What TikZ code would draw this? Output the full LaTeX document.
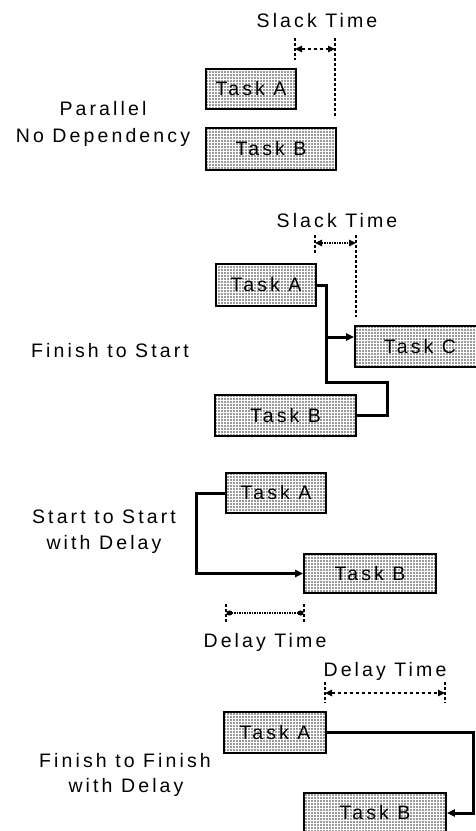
\documentclass[tikz,border=0pt]{standalone}
\usepackage{fontspec}
\setmainfont{Liberation Sans}[LetterSpace=16]
\usetikzlibrary{patterns,arrows.meta}
\pgfdeclarepatternformonly{fdots}{\pgfqpoint{-1pt}{-1pt}}{\pgfqpoint{1pt}{1pt}}{\pgfqpoint{3pt}{3pt}}{\pgfpathcircle{\pgfqpoint{0pt}{0pt}}{.85pt}\pgfusepath{fill}}
\begin{document}
\begin{tikzpicture}[x=1pt,y=-1pt,
  task/.style={draw, line width=1.6pt, pattern=fdots, pattern color=black!80,
    inner sep=0pt, font=\fontsize{19.5}{21}\selectfont, text=black},
  lbl/.style={font=\fontsize{19.5}{21}\selectfont, inner sep=0pt, anchor=base, text=black},
  link/.style={line width=3pt, line join=miter},
  guide/.style={line width=1.2pt, densely dashed},
  dimline/.style={line width=1.5pt, dashed},
  tip/.style={-{Triangle[length=8pt,width=7pt]}}]
\clip (0,0) rectangle (476,831);
\useasboundingbox (0,0) rectangle (476,831);

% ---------- Parallel, no dependency
\node[lbl] (l1) at (317,27) {Slack Time};
\coordinate (s1at) at (295,38); \coordinate (s1ab) at (295,60);
\coordinate (s1bt) at (335,38); \coordinate (s1bb) at (335,118);
\draw[guide] (s1at) -- (s1ab);
\draw[guide] (s1bt) -- (s1bb);
\coordinate (s1l) at (295,49); \coordinate (s1r) at (335,49);
\draw[dimline,{Triangle[length=7pt,width=6.5pt]}-{Triangle[length=7pt,width=6.5pt]}] (s1l) -- (s1r);
\node[task, minimum width=90pt, minimum height=40pt] (A1) at (251,89) {Task A};
\node[task, minimum width=130pt, minimum height=42pt] (B1) at (271,149) {Task B};
\node[lbl] (p1) at (103,115) {Parallel};
\node[lbl] (p2) at (103,142) {No Dependency};

% ---------- Finish to Start
\node[lbl] (l2) at (337,227) {Slack Time};
\coordinate (s2at) at (315,235); \coordinate (s2ab) at (315,253);
\coordinate (s2bt) at (356,235); \coordinate (s2bb) at (356,317);
\draw[guide] (s2at) -- (s2ab);
\draw[guide] (s2bt) -- (s2bb);
\coordinate (s2l) at (315,243); \coordinate (s2r) at (356,243);
\draw[line width=1.5pt, densely dotted,{Triangle[length=7pt,width=6.5pt]}-{Triangle[length=7pt,width=6.5pt]}] (s2l) -- (s2r);
\node[task, minimum width=100pt, minimum height=42pt] (A2) at (266,285) {Task A};
\node[task, minimum width=130pt, minimum height=41pt] (C2) at (420,346.5) {Task C};
\node[task, minimum width=141pt, minimum height=41pt] (B2) at (285.5,415.5) {Task B};
\coordinate (j2a) at (326,382); \coordinate (j2b) at (387,382);
\draw[link] (A2.east) -| (j2a) -- (j2b) |- (B2.east);
\coordinate (t2) at (326,337);
\draw[link,tip] (t2) -- (t2 -| C2.west);
\node[lbl] (f2) at (110,357) {Finish to Start};

% ---------- Start to Start with Delay
\node[task, minimum width=100pt, minimum height=40pt] (A3) at (276,493) {Task A};
\node[task, minimum width=132pt, minimum height=39pt] (B3) at (370,573.5) {Task B};
\coordinate (j3) at (196,533);
\draw[link,tip] (A3.west) -| (j3) |- (B3.west);
\node[lbl] (ss1) at (104,523) {Start to Start};
\node[lbl] (ss2) at (104,549) {with Delay};
\coordinate (d3at) at (226,604); \coordinate (d3ab) at (226,623);
\coordinate (d3bt) at (304,604); \coordinate (d3bb) at (304,623);
\draw[guide] (d3at) -- (d3ab);
\draw[guide] (d3bt) -- (d3bb);
\coordinate (d3l) at (226.5,613); \coordinate (d3r) at (303.5,613);
\draw[line width=1.5pt, densely dotted,{Ellipse[length=6pt,width=5pt]}-{Ellipse[length=6pt,width=5pt]}] (d3l) -- (d3r);
\node[lbl] (dt3) at (265,647) {Delay Time};

% ---------- Finish to Finish with Delay
\node[lbl] (dt4) at (385,676) {Delay Time};
\coordinate (d4at) at (325,682); \coordinate (d4ab) at (325,703);
\coordinate (d4bt) at (445,682); \coordinate (d4bb) at (445,703);
\draw[guide] (d4at) -- (d4ab);
\draw[guide] (d4bt) -- (d4bb);
\coordinate (d4l) at (325,693); \coordinate (d4r) at (445,693);
\draw[dimline,{Triangle[length=7pt,width=6.5pt]}-{Triangle[length=7pt,width=6.5pt]}] (d4l) -- (d4r);
\node[task, minimum width=102pt, minimum height=41pt] (A4) at (275,732.5) {Task A};
\node[task, minimum width=142pt, minimum height=40pt] (B4) at (375,813) {Task B};
\coordinate (j4) at (473,773);
\draw[link,tip] (A4.east) -| (j4) |- (B4.east);
\node[lbl] (ff1) at (125,767) {Finish to Finish};
\node[lbl] (ff2) at (126,792) {with Delay};
\end{tikzpicture}
\end{document}
